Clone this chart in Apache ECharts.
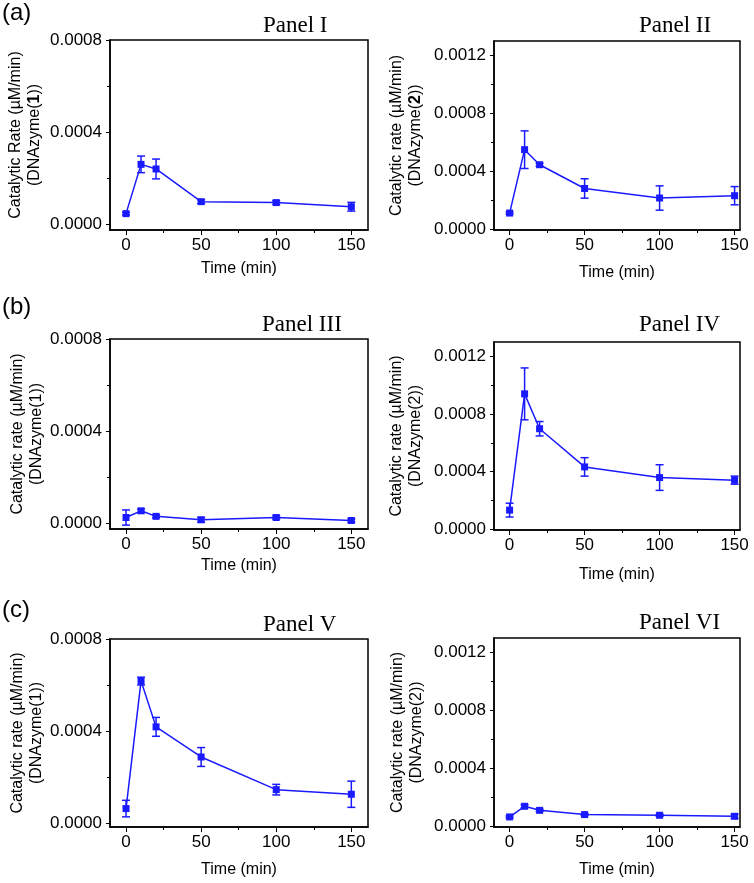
<!DOCTYPE html>
<html>
<head>
<meta charset="utf-8">
<script src="https://cdn.jsdelivr.net/npm/echarts@6/dist/echarts.min.js"></script>
<style>
html,body{margin:0;padding:0;background:#fff;}
#chart{width:754px;height:883px;}
</style>
</head>
<body>
<div id="chart"></div>
<script>
// ---- data ----
var time = [0, 10, 20, 50, 100, 150];
var xTicks = [0, 50, 100, 150];
var xMinorTicks = [25, 75, 125];
var yTicksLeft = [0, 0.0004, 0.0008];
var yMinorLeft = [0.0002, 0.0006];
var yTicksRight = [0, 0.0004, 0.0008, 0.0012];
var yMinorRight = [0.0002, 0.0006, 0.0010];

var panelTitles = ['Panel I', 'Panel II', 'Panel III', 'Panel IV', 'Panel V', 'Panel VI'];
var groupLabels = ['(a)', '(b)', '(c)'];
var yNames = [
  'Catalytic Rate (\u00b5M/min)\n(DNAzyme({b|1}))',
  'Catalytic rate (\u00b5M/min)\n(DNAzyme({b|2}))',
  'Catalytic rate (\u00b5M/min)\n(DNAzyme(1))',
  'Catalytic rate (\u00b5M/min)\n(DNAzyme(2))',
  'Catalytic rate (\u00b5M/min)\n(DNAzyme(1))',
  'Catalytic rate (\u00b5M/min)\n(DNAzyme(2))'
];
var xName = 'Time (min)';

var rate1 = [0.000046, 0.00026, 0.00024, 0.000098, 0.000094, 0.000076];
var err1  = [0.000006, 0.000036, 0.000043, 0.000008, 0.000008, 0.000019];
var rate2 = [0.000111, 0.000549, 0.000445, 0.000281, 0.000215, 0.000231];
var err2  = [0.000008, 0.00013, 0.00001, 0.000067, 0.000084, 0.000063];
var rate3 = [0.000024, 0.000053, 0.000029, 0.000014, 0.000024, 0.000011];
var err3  = [0.000033, 0.000008, 0.000006, 0.00001, 0.000007, 0.000007];
var rate4 = [0.000133, 0.00094, 0.000698, 0.000433, 0.000359, 0.000341];
var err4  = [0.000048, 0.00018, 0.00005, 0.000064, 0.000089, 0.000028];
var rate5 = [0.0000627, 0.000617, 0.000418, 0.000287, 0.000145, 0.000125];
var err5  = [0.000036, 0.000017, 0.000041, 0.000041, 0.000023, 0.000057];
var rate6 = [0.0000645, 0.000138, 0.00011, 0.0000807, 0.000076, 0.000069];
var err6  = [0.000007, 0.00001, 0.000008, 0.000007, 0.000007, 0.000015];

var rates = [rate1, rate2, rate3, rate4, rate5, rate6];
var errs = [err1, err2, err3, err4, err5, err6];

// ---- layout ----
var BLUE = '#1a1aff';
var grids = [
  {left: 110, top: 40, width: 258, height: 190},
  {left: 494, top: 41, width: 246, height: 189},
  {left: 110, top: 339, width: 258, height: 190},
  {left: 494, top: 342, width: 246, height: 188},
  {left: 110, top: 639, width: 258, height: 188},
  {left: 494, top: 638, width: 246, height: 189}
];
var xRanges = [[-10.67, 161.1], [-10.4, 153.6], [-10.67, 161.1], [-10.4, 153.6], [-10.67, 161.1], [-10.4, 153.6]];
var yRanges = [[-0.000025, 0.0008], [-0.000006, 0.0013], [-0.000026, 0.0008], [-0.000005, 0.0013], [-0.0000174, 0.0008], [-0.000005, 0.0013]];
var xNameGaps = [31, 35, 29, 37, 35, 35];
var yNameGaps = [66, 69, 64, 69, 64, 68];
var titlePos = [[263, 14], [639, 14], [262, 313], [639, 313], [263, 613], [639, 611]];
var groupPos = [[2, 1], [2, 295], [2, 598]];

var option = {
  animation: false,
  backgroundColor: '#fff',
  title: [],
  grid: [],
  xAxis: [],
  yAxis: [],
  series: []
};

panelTitles.forEach(function (t, i) {
  option.title.push({
    text: t, left: titlePos[i][0], top: titlePos[i][1], padding: 0,
    textStyle: {fontFamily: 'Liberation Serif', fontSize: 23, fontWeight: 'normal', color: '#000'}
  });
});
groupLabels.forEach(function (t, i) {
  option.title.push({
    text: t, left: groupPos[i][0], top: groupPos[i][1], padding: 0,
    textStyle: {fontFamily: 'Liberation Sans', fontSize: 24, fontWeight: 'normal', color: '#000'}
  });
});

var labelStyle = {fontFamily: 'Liberation Sans', fontSize: 17, color: '#000'};

for (var i = 0; i < 6; i++) {
  var g = grids[i];
  var right = i % 2 === 1;
  option.grid.push({
    left: g.left, top: g.top, width: g.width, height: g.height,
    show: true, borderColor: '#000', borderWidth: 1.5, backgroundColor: 'transparent',
    containLabel: false, outerBoundsMode: 'none'
  });
  // main x axis
  option.xAxis.push({
    type: 'value', gridIndex: i, min: xRanges[i][0], max: xRanges[i][1],
    position: 'bottom',
    name: xName, nameLocation: 'middle', nameGap: xNameGaps[i],
    nameTextStyle: {fontFamily: 'Liberation Sans', fontSize: 16, color: '#000'},
    axisLine: {show: true, onZero: false, lineStyle: {color: '#000', width: 1.5}},
    axisTick: {show: true, inside: false, length: 5, customValues: xTicks, lineStyle: {color: '#000', width: 1}},
    axisLabel: {show: true, margin: 7, customValues: xTicks, formatter: function (v) { return String(Math.round(v)); }, fontFamily: labelStyle.fontFamily, fontSize: labelStyle.fontSize, color: '#000'},
    splitLine: {show: false}
  });
  // minor x axis
  option.xAxis.push({
    type: 'value', gridIndex: i, min: xRanges[i][0], max: xRanges[i][1],
    position: 'bottom', offset: 0,
    axisLine: {show: false, onZero: false},
    axisTick: {show: true, inside: false, length: 3, customValues: xMinorTicks, lineStyle: {color: '#000', width: 1}},
    axisLabel: {show: false},
    splitLine: {show: false}
  });
  var yt = right ? yTicksRight : yTicksLeft;
  var ym = right ? yMinorRight : yMinorLeft;
  var richB = {fontWeight: 'bold', fontFamily: 'Liberation Sans', fontSize: 16, lineHeight: 19, color: '#000'};
  option.yAxis.push({
    type: 'value', gridIndex: i, min: yRanges[i][0], max: yRanges[i][1],
    position: 'left',
    name: yNames[i], nameLocation: 'middle', nameRotate: 90, nameGap: yNameGaps[i],
    nameTextStyle: {fontFamily: 'Liberation Sans', fontSize: 16, lineHeight: 19, color: '#000', rich: {b: richB}},
    axisLine: {show: true, onZero: false, lineStyle: {color: '#000', width: 1.5}},
    axisTick: {show: true, inside: false, length: 4, customValues: yt, lineStyle: {color: '#000', width: 1}},
    axisLabel: {show: true, margin: 8, customValues: yt, formatter: function (v) { return (Math.round(v * 1e4) / 1e4).toFixed(4); }, fontFamily: labelStyle.fontFamily, fontSize: labelStyle.fontSize, color: '#000'},
    splitLine: {show: false}
  });
  option.yAxis.push({
    type: 'value', gridIndex: i, min: yRanges[i][0], max: yRanges[i][1],
    position: 'left', offset: 0,
    axisLine: {show: false, onZero: false},
    axisTick: {show: true, inside: false, length: 3, customValues: ym, lineStyle: {color: '#000', width: 1}},
    axisLabel: {show: false},
    splitLine: {show: false}
  });

  var lineData = time.map(function (t, k) { return [t, rates[i][k]]; });
  var errData = time.map(function (t, k) { return [t, rates[i][k], errs[i][k]]; });

  option.series.push({
    type: 'custom', xAxisIndex: 2 * i, yAxisIndex: 2 * i,
    data: errData, z: 3, silent: true,
    renderItem: function (params, api) {
      var x = api.value(0), y = api.value(1), e = api.value(2);
      var hi = api.coord([x, y + e]);
      var lo = api.coord([x, y - e]);
      var cw = 4;
      var st = {stroke: BLUE, lineWidth: 1.5, fill: null};
      return {
        type: 'group',
        children: [
          {type: 'line', shape: {x1: hi[0], y1: hi[1], x2: lo[0], y2: lo[1]}, style: st},
          {type: 'line', shape: {x1: hi[0] - cw, y1: hi[1], x2: hi[0] + cw, y2: hi[1]}, style: st},
          {type: 'line', shape: {x1: lo[0] - cw, y1: lo[1], x2: lo[0] + cw, y2: lo[1]}, style: st}
        ]
      };
    }
  });
  option.series.push({
    type: 'line', xAxisIndex: 2 * i, yAxisIndex: 2 * i,
    data: lineData, z: 4, silent: true,
    symbol: 'rect', symbolSize: 7, showSymbol: true,
    lineStyle: {color: BLUE, width: 1.5},
    itemStyle: {color: BLUE, borderWidth: 0}
  });
}

var chart = echarts.init(document.getElementById('chart'), null, {renderer: 'canvas', width: 754, height: 883});
chart.setOption(option);
</script>
</body>
</html>
